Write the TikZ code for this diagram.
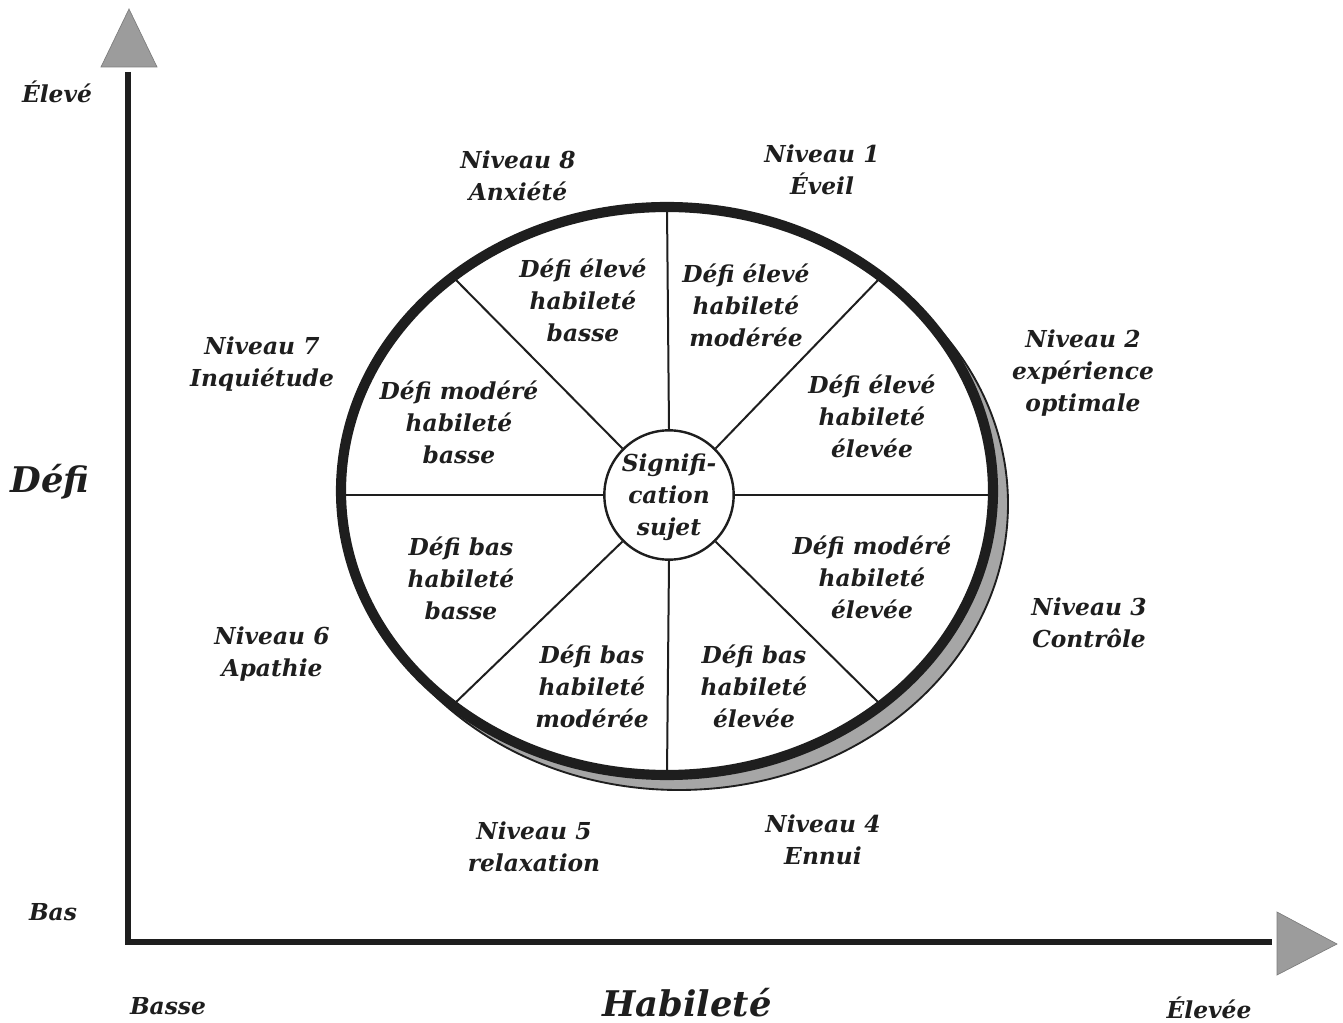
\documentclass[tikz,border=0pt]{standalone}
\usepackage{fontspec}
\setmainfont{DejaVu Serif}
\usetikzlibrary{calc}

\definecolor{inkblack}{HTML}{1E1E1E}
\definecolor{headgray}{HTML}{9C9C9C}
\definecolor{shadowgray}{HTML}{A6A6A6}

\newcommand\lvlfont{\fontsize{17.5}{24}\selectfont\bfseries\itshape}
\newcommand\axisfont{\fontsize{26.5}{32}\selectfont\bfseries\itshape}

\begin{document}
\begin{tikzpicture}[x=0.75pt,y=-0.75pt,
  txt/.style={font=\lvlfont, align=center, inner sep=0pt, text=inkblack},
  bigtxt/.style={font=\axisfont, inner sep=0pt, text=inkblack},
  spoke/.style={line width=1.5pt, draw=inkblack},
  axisline/.style={line width=4.6pt, draw=inkblack, line join=miter},
  arrowhead/.style={fill=headgray, draw=headgray!80!black, line width=0.5pt}]
\useasboundingbox (0,0) rectangle (1343,1023);

% axes
\coordinate (O) at (128,942);
\coordinate (Ytop) at (128,72);
\coordinate (Xend) at (1272,942);
\draw[axisline] (Ytop) -- (O) -- (Xend);
\path[arrowhead] (101,67) -- (129,9) -- (157,67) -- cycle;
\path[arrowhead] (1277,912) -- (1337,944) -- (1277,975) -- cycle;

% wheel: shadow, face, spokes, rim
\coordinate (E) at (667,491);
\path[fill=shadowgray, draw=inkblack, line width=1.4pt]
  ($(E)+(12,13)$) ellipse [x radius=329, y radius=286];
\fill[white] (E) ellipse [x radius=326, y radius=284];

\node[circle, draw=inkblack, line width=1.8pt, fill=white,
      minimum size=97pt, inner sep=0pt] (ctr) at (669,495) {};

\coordinate (pN) at (667,207);
\coordinate (pS) at (667,775);
\coordinate (pW) at (341,495);
\coordinate (pE) at (993,495);
\coordinate (pNW) at (453,277);
\coordinate (pNE) at (881,277);
\coordinate (pSW) at (453,705);
\coordinate (pSE) at (881,705);

\draw[spoke] (ctr.north) -- (pN);
\draw[spoke] (ctr.south) -- (pS);
\draw[spoke] (ctr.west) -- (pW);
\draw[spoke] (ctr.east) -- (pE);
\draw[spoke] (ctr.135) -- (pNW);
\draw[spoke] (ctr.45) -- (pNE);
\draw[spoke] (ctr.-135) -- (pSW);
\draw[spoke] (ctr.-45) -- (pSE);

\draw[line width=7.6pt, draw=inkblack] (E) ellipse [x radius=326, y radius=284];

\node[txt] (ctrtxt) at (669,497) {Signifi-\\cation\\sujet};

% sectors
\node[txt] (s1) at (583,300) {Défi élevé\\habileté\\basse};
\node[txt] (s2) at (746,305) {Défi élevé\\habileté\\modérée};
\node[txt] (s3) at (872,416) {Défi élevé\\habileté\\élevée};
\node[txt] (s4) at (872,577) {Défi modéré\\habileté\\élevée};
\node[txt] (s5) at (754,686) {Défi bas\\habileté\\élevée};
\node[txt] (s6) at (592,686) {Défi bas\\habileté\\modérée};
\node[txt] (s7) at (461,578) {Défi bas\\habileté\\basse};
\node[txt] (s8) at (459,422) {Défi modéré\\habileté\\basse};

% levels around the wheel
\node[txt] (n1) at (822,170) {Niveau 1\\Éveil};
\node[txt] (n2) at (1083,373) {Niveau 2\\expérience\\optimale};
\node[txt] (n3) at (1089,623) {Niveau 3\\Contrôle};
\node[txt] (n4) at (823,840) {Niveau 4\\Ennui};
\node[txt] (n5) at (534,847) {Niveau 5\\relaxation};
\node[txt] (n6) at (272,654) {Niveau 6\\Apathie};
\node[txt] (n7) at (262,364) {Niveau 7\\Inquiétude};
\node[txt] (n8) at (518,176) {Niveau 8\\Anxiété};

% axis labels
\node[txt] (yhigh) at (57,92) {Élevé};
\node[txt] (ylow) at (53,912) {Bas};
\node[bigtxt] (yname) at (50,482) {Défi};
\node[txt] (xlow) at (168,1006) {Basse};
\node[bigtxt] (xname) at (687,1003) {Habileté};
\node[txt] (xhigh) at (1209,1008) {Élevée};
\end{tikzpicture}
\end{document}
